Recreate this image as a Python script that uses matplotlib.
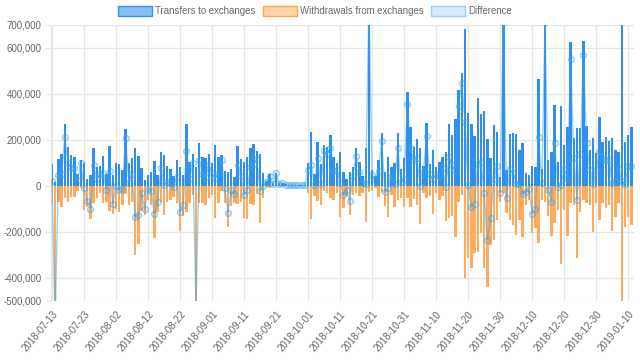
import numpy as np
import pandas as pd
import matplotlib
matplotlib.use('Agg')
import matplotlib.pyplot as plt
from matplotlib.patches import Patch

plt.rcParams['font.family'] = ['Liberation Sans', 'DejaVu Sans']

# daily values, 2018-07-13 .. 2019-01-10 (in thousands)
dates = pd.date_range('2018-07-13', '2019-01-10', freq='D')
tick_labels = ['2018-07-13', '2018-07-23', '2018-08-02', '2018-08-12', '2018-08-22',
               '2018-09-01', '2018-09-11', '2018-09-21', '2018-10-01', '2018-10-11',
               '2018-10-21', '2018-10-31', '2018-11-10', '2018-11-20', '2018-11-30',
               '2018-12-10', '2018-12-20', '2018-12-30', '2019-01-10']

transfers = [
    93, 15, 116, 140, 268, 170, 133, 126, 50, 112,
    97, 28, 46, 165, 83, 85, 129, 50, 174, 45,
    100, 94, 68, 246, 97, 122, 165, 129, 78, 25,
    46, 61, 107, 46, 148, 133, 85, 72, 43, 112,
    83, 46, 267, 104, 138, 83, 184, 126, 122, 140,
    97, 175, 126, 133, 65, 61, 72, 39, 172, 114,
    101, 126, 162, 181, 152, 140, 54, 20, 51, 10,
    57, 10, 13, 7, 2, 5, 4, 3, 3, 4,
    100, 235, 49, 188, 93, 175, 170, 219, 126, 100,
    145, 58, 28, 61, 83, 162, 104, 42, 165, 820,
    68, 43, 112, 228, 60, 126, 80, 97, 228, 71,
    122, 409, 254, 170, 204, 165, 87, 271, 94, 155,
    83, 104, 123, 148, 267, 220, 291, 416, 488, 680,
    317, 267, 216, 383, 310, 326, 204, 119, 264, 233,
    40, 760, 68, 223, 228, 223, 155, 187, 57, 46,
    85, 83, 464, 72, 780, 112, 148, 351, 101, 346,
    177, 254, 626, 206, 249, 249, 630, 259, 155, 206,
    143, 297, 191, 210, 196, 206, 155, 148, 760, 188,
    220, 257,
]

withdrawals = [
    -74, -600, -70, -91, -55, -70, -50, -50, -25, -12,
    -106, -94, -146, -77, -55, -33, -74, -70, -112, -123,
    -103, -113, -84, -38, -84, -70, -303, -255, -110, -128,
    -60, -85, -229, -116, -73, -128, -70, -62, -50, -75,
    -197, -130, -115, -75, -40, -600, -74, -75, -84, -52,
    -40, -142, -75, -21, -77, -178, -90, -77, -80, -70,
    -140, -146, -79, -85, -38, -164, -55, -4, -8, -2,
    -3, -3, -2, -2, -1, -1, -2, -1, -1, -1,
    -33, -146, -45, -67, -84, -25, -32, -55, -60, -30,
    -135, -99, -45, -128, -40, -33, -45, -30, -156, -26,
    -22, -12, -48, -33, -88, -135, -40, -91, -62, -55,
    -91, -55, -91, -59, -84, -167, -33, -55, -45, -125,
    -33, -60, -45, -154, -142, -132, -222, -70, -40, -403,
    -316, -359, -294, -287, -207, -359, -439, -258, -235, -149,
    -70, -33, -120, -149, -171, -214, -148, -222, -84, -62,
    -207, -186, -251, -62, -70, -130, -219, -164, -106, -341,
    -106, -219, -74, -84, -313, -113, -62, -74, -85, -200,
    -74, -149, -77, -99, -84, -196, -135, -77, -740, -181,
    -135, -171,
]

transfers = np.array(transfers) * 1000
withdrawals = np.array(withdrawals) * 1000
difference = transfers + withdrawals
x = np.arange(len(dates))

blue = '#2f8eee'
orange = '#ffab5e'
line_c = (0.21, 0.64, 0.92, 0.5)
grid_c = '#e6e6e6'
text_c = '#666666'

fig = plt.figure(figsize=(6.4, 3.61), dpi=100)
ax = fig.add_axes([51 / 640, 1 - 300.7 / 361, 583 / 640, 276 / 361])

ax.bar(x, transfers, width=0.75, color=blue, zorder=2)
ax.bar(x, withdrawals, width=0.75, color=orange, zorder=2)
ax.plot(x, difference, color=line_c, lw=1, marker='o', ms=4.2,
        mfc=(0.21, 0.64, 0.92, 0.12), mec=line_c, mew=1, zorder=3)

ax.set_ylim(-500000, 700000)
ax.set_xlim(-0.3, 181.8)
yt = [-500000, -400000, -200000, 0, 200000, 400000, 600000, 700000]
ax.set_yticks(yt)
ax.set_yticklabels([f'{v:,}' for v in yt])
ax.set_xticks(x[::10])
ax.set_xticklabels(tick_labels, rotation=50, ha='right', rotation_mode='anchor')

ax.grid(True, color=grid_c, lw=1, zorder=0)
for s in ['top', 'right', 'bottom']:
    ax.spines[s].set_visible(False)
ax.spines['left'].set_color(grid_c)
ax.tick_params(axis='y', length=4, color=grid_c, pad=3, labelsize=7, labelcolor=text_c)
ax.tick_params(axis='x', length=0, pad=6, labelsize=7, labelcolor=text_c)

handles = [
    Patch(facecolor='#86bdf2', edgecolor='#3a8fe6', lw=1, label='Transfers to exchanges'),
    Patch(facecolor='#ffd4a8', edgecolor='#ffa54d', lw=1, label='Withdrawals from exchanges'),
    Patch(facecolor='#d7eafb', edgecolor='#9fcff5', lw=1, label='Difference'),
]
leg = fig.legend(handles=handles, loc='center', bbox_to_anchor=(315 / 640, 1 - 11 / 361),
                 ncol=3, frameon=False, fontsize=6.9, handlelength=3.5,
                 handleheight=1.2, handletextpad=0.35, columnspacing=0.8,
                 borderpad=0)
for t in leg.get_texts():
    t.set_color(text_c)

fig.savefig('out.png', dpi=100)
